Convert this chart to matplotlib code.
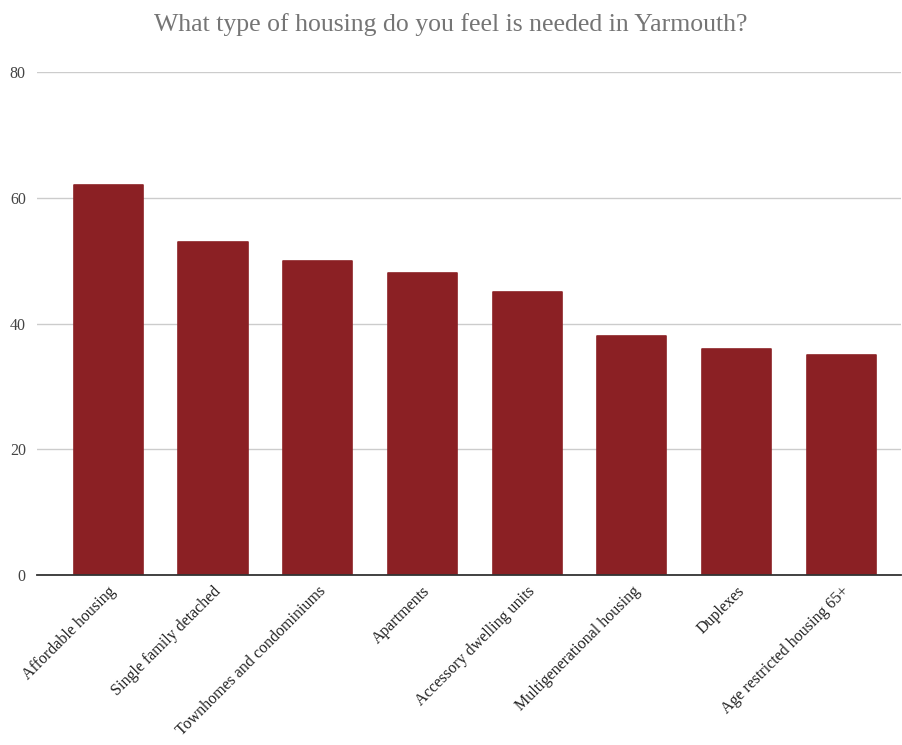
import matplotlib
matplotlib.use('Agg')
import matplotlib.pyplot as plt

# survey answers
housing_types = ['Affordable housing', 'Single family detached',
                 'Townhomes and condominiums', 'Apartments',
                 'Accessory dwelling units', 'Multigenerational housing',
                 'Duplexes', 'Age restricted housing 65+']
responses = [62, 53, 50, 48, 45, 38, 36, 35]
y_ticks = [0, 20, 40, 60, 80]

plt.rcParams['font.family'] = ['Liberation Serif', 'DejaVu Serif']

fig = plt.figure(figsize=(9.02, 7.45), dpi=100)
ax = fig.add_axes([0.041, 0.228, 0.958, 0.675])

bar_color = '#8b2024'
bars = ax.bar(range(len(housing_types)), responses, width=0.66,
              color=bar_color, edgecolor=bar_color, linewidth=1.2, zorder=3)
for b in bars:
    b.set_joinstyle('round')

ax.set_ylim(0, 80)
ax.set_xlim(-0.68, 7.57)
ax.set_yticks(y_ticks)
ax.set_yticklabels([str(t) for t in y_ticks], fontsize=11.5, color='#444444')
ax.yaxis.grid(True, color='#cccccc', linewidth=1, zorder=0)
ax.tick_params(axis='y', length=0, pad=8)
ax.tick_params(axis='x', length=0, pad=6)

ax.set_xticks(range(len(housing_types)))
ax.set_xticklabels(housing_types, rotation=45, ha='right',
                   rotation_mode='anchor', fontsize=11.5, color='#222222')

for side in ['top', 'right', 'left']:
    ax.spines[side].set_visible(False)
ax.spines['bottom'].set_color('#333333')
ax.spines['bottom'].set_linewidth(1.3)
ax.spines['bottom'].set_zorder(4)

fig.suptitle('What type of housing do you feel is needed in Yarmouth?',
             x=0.5, y=0.982, fontsize=18.5, color='#757575')

fig.savefig('out.png', dpi=100, facecolor='white')
